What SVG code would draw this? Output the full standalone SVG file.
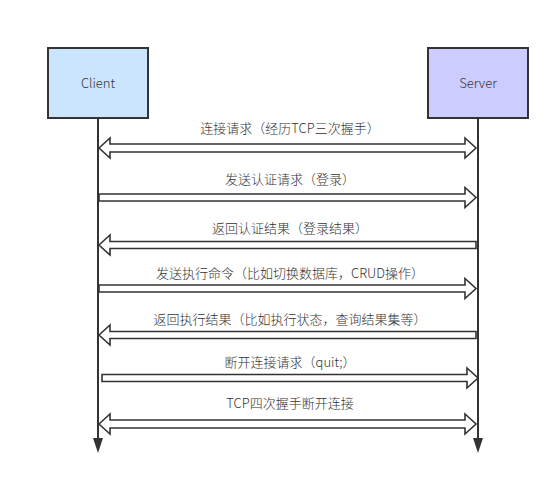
<svg xmlns="http://www.w3.org/2000/svg" width="560" height="485" viewBox="0 0 560 485">
<style>
.box{stroke:#333;stroke-width:2}
.life{stroke:#333;stroke-width:2;fill:none}
.head{fill:#333}
.blk{fill:#fff;stroke:#333;stroke-width:1.6;stroke-linejoin:miter}
text{font-family:"Noto Sans CJK SC","Noto Sans",sans-serif;font-size:13px;font-weight:300;fill:#333;text-anchor:middle}
</style>
<rect width="560" height="485" fill="#fff"/>
<g id="client">
<rect class="box" x="48" y="48" width="100" height="70" fill="#cce5ff"/>
<text x="98" y="88">Client</text>
</g>
<g id="server">
<rect class="box" x="428" y="48" width="100" height="70" fill="#ccccff"/>
<text x="478" y="88">Server</text>
</g>
<g id="connectors">
<line class="life" x1="98" y1="118" x2="98" y2="440"/>
<path class="head" d="M93,438 L103,438 L98,453 Z"/>
<line class="life" x1="478" y1="118" x2="478" y2="440"/>
<path class="head" d="M473,438 L483,438 L478,453 Z"/>

<path class="blk" d="M99,148 L110,138 L110,144 L465,144 L465,138 L476,148 L465,158 L465,152 L110,152 L110,158 Z"/>
<path class="blk" d="M99,194 L465,194 L465,187.5 L476,197.5 L465,207.5 L465,201 L99,201 Z"/>
<path class="blk" d="M99,245 L110,235 L110,241.5 L476,241.5 L476,248.5 L110,248.5 L110,255 Z"/>
<path class="blk" d="M99,285 L465,285 L465,278.5 L476,288.5 L465,298.5 L465,292 L99,292 Z"/>
<path class="blk" d="M99,335 L110,325 L110,331.5 L476,331.5 L476,338.5 L110,338.5 L110,345 Z"/>
<path class="blk" d="M102,374.5 L467,374.5 L467,368 L478,378 L467,388 L467,381.5 L102,381.5 Z"/>
<path class="blk" d="M99,424 L110,414 L110,420 L465,420 L465,414 L476,424 L465,434 L465,428 L110,428 L110,434 Z"/>
</g>
<g id="labels">
<text x="290" y="133">连接请求（经历TCP三次握手）</text>
<text x="290" y="184">发送认证请求（登录）</text>
<text x="290" y="233">返回认证结果（登录结果）</text>
<text x="290" y="278">发送执行命令（比如切换数据库，CRUD操作）</text>
<text x="290" y="324">返回执行结果（比如执行状态，查询结果集等）</text>
<text x="290" y="367">断开连接请求（quit;）</text>
<text x="290" y="408">TCP四次握手断开连接</text>
</g>
</svg>
